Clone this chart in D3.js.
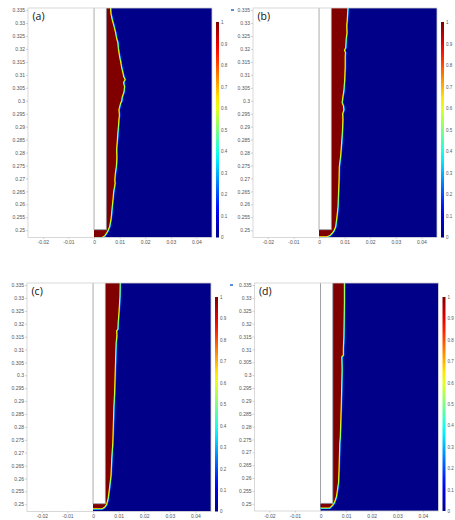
<!DOCTYPE html>
<html>
<head>
<meta charset="utf-8">
<script src="https://cdn.jsdelivr.net/npm/d3@7"></script>
<style>
  html, body { margin: 0; padding: 0; background: #fff; }
  svg { display: block; }
</style>
</head>
<body>
<div id="chart"></div>
<script>
// ---- data ----
const panelLabels = ["(a)", "(b)", "(c)", "(d)"];
const xTicks = [-0.02, -0.01, 0, 0.01, 0.02, 0.03, 0.04];
const yTicks = [0.25, 0.255, 0.26, 0.265, 0.27, 0.275, 0.28, 0.285, 0.29, 0.295,
                0.3, 0.305, 0.31, 0.315, 0.32, 0.325, 0.33, 0.335];
const cbTicks = [0, 0.1, 0.2, 0.3, 0.4, 0.5, 0.6, 0.7, 0.8, 0.9, 1];

// wall (white block) and inlet channel at the bottom
const wallX = 0.0048;
const stripTop = 0.2502;
const stripBottom = [0.2474, 0.2477, 0.2485, 0.2486];

// interface position [y, x] from top to bottom
const frontA = [
  [0.3360, 0.0062], [0.3335, 0.0064], [0.3312, 0.0069], [0.3290, 0.0075], [0.3262, 0.0082],
  [0.3240, 0.0086], [0.3223, 0.0091], [0.3200, 0.0093], [0.3169, 0.0098], [0.3150, 0.0102],
  [0.3131, 0.0105], [0.3110, 0.0110], [0.3092, 0.0114], [0.3082, 0.0119], [0.3070, 0.0113],
  [0.3054, 0.0117], [0.3035, 0.0115], [0.3015, 0.0108], [0.3000, 0.0106], [0.2992, 0.0102],
  [0.2965, 0.0095], [0.2945, 0.0097], [0.2927, 0.0095], [0.2900, 0.0093], [0.2877, 0.0091],
  [0.2850, 0.0089], [0.2812, 0.0086], [0.2780, 0.0087], [0.2746, 0.0085], [0.2720, 0.0081],
  [0.2696, 0.0079], [0.2680, 0.0080], [0.2646, 0.0074], [0.2620, 0.0072], [0.2592, 0.0069],
  [0.2560, 0.0066], [0.2542, 0.0064], [0.2515, 0.0059], [0.2500, 0.0053], [0.2488, 0.0046],
  [0.2480, 0.0040], [0.2474, 0.0030]
];
const frontB = [
  [0.3360, 0.0111], [0.3330, 0.0109], [0.3312, 0.0108], [0.3290, 0.0106], [0.3262, 0.0107],
  [0.3240, 0.0104], [0.3205, 0.0102], [0.3196, 0.0097], [0.3185, 0.0101], [0.3169, 0.0100],
  [0.3131, 0.0100], [0.3081, 0.0098], [0.3040, 0.0095], [0.3015, 0.0091], [0.2992, 0.0088],
  [0.2980, 0.0093], [0.2965, 0.0095], [0.2950, 0.0090], [0.2927, 0.0091], [0.2877, 0.0089],
  [0.2823, 0.0085], [0.2785, 0.0082], [0.2746, 0.0077], [0.2696, 0.0076], [0.2646, 0.0074],
  [0.2592, 0.0072], [0.2554, 0.0068], [0.2515, 0.0063], [0.2500, 0.0057], [0.2490, 0.0050],
  [0.2482, 0.0042], [0.2477, 0.0030]
];
const frontC = [
  [0.3360, 0.0104], [0.3307, 0.0103], [0.3257, 0.0100], [0.3203, 0.0096], [0.3180, 0.0095],
  [0.3174, 0.0090], [0.3153, 0.0091], [0.3125, 0.0088], [0.3064, 0.0086], [0.2998, 0.0084],
  [0.2932, 0.0082], [0.2871, 0.0079], [0.2805, 0.0077], [0.2739, 0.0075], [0.2678, 0.0071],
  [0.2612, 0.0068], [0.2562, 0.0062], [0.2523, 0.0057], [0.2500, 0.0051], [0.2490, 0.0044],
  [0.2485, 0.0035]
];
const frontD = [
  [0.3360, 0.0091], [0.3277, 0.0091], [0.3211, 0.0090], [0.3146, 0.0089], [0.3108, 0.0087],
  [0.3078, 0.0087], [0.3072, 0.0081], [0.3019, 0.0082], [0.2891, 0.0079], [0.2760, 0.0075],
  [0.2737, 0.0073], [0.2632, 0.0070], [0.2582, 0.0068], [0.2528, 0.0060], [0.2505, 0.0052],
  [0.2495, 0.0045], [0.2486, 0.0035]
];
const fronts = [frontA, frontB, frontC, frontD];

// ---- layout ----
const width = 455, height = 520;
const panels = [
    { left: 28,    top: 8,   bottom: 237.5 },
    { left: 253,   top: 8,   bottom: 237.5 },
    { left: 27,    top: 283, bottom: 511.5 },
    { left: 254.5, top: 283, bottom: 511 }
];
const plotW = 184;
const xDomain = [-0.0258, 0.0461];
const yDomain = [0.2472, 0.3358];

// jet colour map
const jet = d3.scaleLinear()
    .domain([0, 0.125, 0.375, 0.625, 0.875, 1])
    .range(["#000088", "#0000ff", "#00ffff", "#ffff00", "#ff0000", "#800000"]);

const svg = d3.select("#chart").append("svg")
    .attr("width", width)
    .attr("height", height);

const defs = svg.append("defs");

const grad = defs.append("linearGradient")
    .attr("id", "jetGrad")
    .attr("x1", 0).attr("y1", 1)
    .attr("x2", 0).attr("y2", 0);

d3.range(0, 1.001, 0.05).forEach(t => {
    grad.append("stop")
        .attr("offset", (t * 100) + "%")
        .attr("stop-color", jet(t));
});

panels.forEach((p, i) => {
    const x = d3.scaleLinear().domain(xDomain).range([p.left, p.left + plotW]);
    const y = d3.scaleLinear().domain(yDomain).range([p.bottom, p.top]);
    const sb = stripBottom[i];
    const front = fronts[i];

    const g = svg.append("g");

    defs.append("clipPath")
        .attr("id", "clip" + i)
        .append("rect")
        .attr("x", x(xDomain[0]))
        .attr("y", y(yDomain[1]))
        .attr("width", x(xDomain[1]) - x(xDomain[0]))
        .attr("height", y(yDomain[0]) - y(yDomain[1]));

    const field = g.append("g").attr("clip-path", `url(#clip${i})`);

    // blue fluid domain
    field.append("rect")
        .attr("x", x(0))
        .attr("y", y(yDomain[1]))
        .attr("width", x(xDomain[1]) - x(0))
        .attr("height", y(yDomain[0]) - y(yDomain[1]))
        .attr("fill", jet(0));

    // interface fringe (thin colour ramp red -> blue)
    const line = d3.line()
        .x(d => x(d[1]))
        .y(d => y(d[0]));

    const edge = front.concat([[sb, 0]]);
    [[0.22, 3.4], [0.4, 2.5], [0.62, 1.5]].forEach(([v, w]) => {
        field.append("path")
            .attr("d", line(edge))
            .attr("fill", "none")
            .attr("stroke", jet(v))
            .attr("stroke-width", w)
            .attr("stroke-linejoin", "round");
    });

    // red phase
    const poly = [[yDomain[1] + 0.001, wallX]]
        .concat(front)
        .concat([[sb, 0], [stripTop, 0], [stripTop, wallX]]);

    field.append("path")
        .attr("d", line(poly) + "Z")
        .attr("fill", jet(1));

    // white wall block
    field.append("rect")
        .attr("x", x(0))
        .attr("y", y(yDomain[1]) - 1)
        .attr("width", x(wallX) - x(0))
        .attr("height", y(stripTop) - y(yDomain[1]) + 1)
        .attr("fill", "#fff")
        .attr("stroke", "#9a9a9a")
        .attr("stroke-width", 0.8);

    // frame
    g.append("rect")
        .attr("x", x(xDomain[0]))
        .attr("y", y(yDomain[1]))
        .attr("width", x(xDomain[1]) - x(xDomain[0]))
        .attr("height", y(yDomain[0]) - y(yDomain[1]))
        .attr("fill", "none")
        .attr("stroke", "#cfcfcf")
        .attr("stroke-width", 0.8);

    // axes
    const yAxis = g.append("g")
        .attr("transform", `translate(${x(xDomain[0])},0)`)
        .call(d3.axisLeft(y).tickValues(yTicks).tickSize(2).tickPadding(1).tickFormat(d => String(d)));

    const xAxis = g.append("g")
        .attr("transform", `translate(0,${y(yDomain[0])})`)
        .call(d3.axisBottom(x).tickValues(xTicks).tickSize(1.5).tickPadding(1.5).tickFormat(d => String(d)));

    [yAxis, xAxis].forEach(a => {
        a.select(".domain").remove();
        a.selectAll("line").attr("stroke", "#b5b5b5").attr("stroke-width", 0.6);
        a.selectAll("text")
            .attr("fill", "#555")
            .attr("font-family", "Liberation Sans, Arial, sans-serif")
            .attr("font-size", "5px");
    });

    // colour bar
    const cbX = x(xDomain[1]) + 4;
    const cbTop = p.top + 14;
    const cb = d3.scaleLinear().domain([0, 1]).range([p.bottom, cbTop]);

    g.append("rect")
        .attr("x", cbX)
        .attr("y", cbTop)
        .attr("width", 3)
        .attr("height", p.bottom - cbTop)
        .attr("fill", "url(#jetGrad)");

    const cbAxis = g.append("g")
        .attr("transform", `translate(${cbX + 3},0)`)
        .call(d3.axisRight(cb).tickValues(cbTicks).tickSize(0).tickPadding(2).tickFormat(d => String(d)));

    cbAxis.select(".domain").remove();
    cbAxis.selectAll("text")
        .attr("fill", "#555")
        .attr("font-family", "Liberation Sans, Arial, sans-serif")
        .attr("font-size", "4.5px");

    // small blue marker above the colour bar
    g.append("rect")
        .attr("x", cbX + 15)
        .attr("y", p.top + 1)
        .attr("width", 3)
        .attr("height", 2)
        .attr("fill", "#5b8fd8");

    // panel label
    g.append("text")
        .attr("x", p.left + 4.5)
        .attr("y", p.top + 12)
        .attr("font-family", "Open Sans, sans-serif")
        .attr("font-size", "10.5px")
        .attr("fill", "#111")
        .text(panelLabels[i]);
});
</script>
</body>
</html>
